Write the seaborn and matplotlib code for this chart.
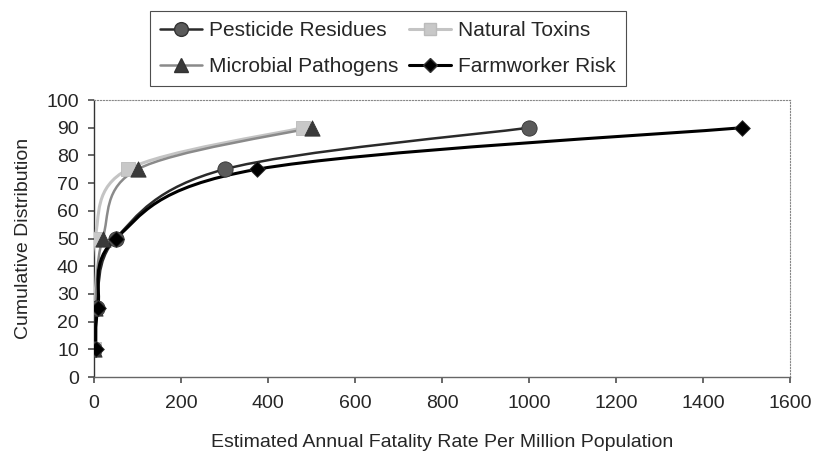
import numpy as np
import pandas as pd
import matplotlib
matplotlib.use('Agg')
import matplotlib.pyplot as plt
import seaborn as sns
from matplotlib.path import Path
from matplotlib.patches import PathPatch
from matplotlib.lines import Line2D

# Percentile points of each distribution
percentiles = [10, 25, 50, 75, 90]
pesticide = [0.5, 6, 50, 300, 1000]
natural = [0.3, 1, 2, 78, 480]
microbial = [0.5, 3, 20, 100, 500]
farmworker = [4, 9, 50, 375, 1490]

x_ticks = list(range(0, 1601, 200))
y_ticks = list(range(0, 101, 10))

sns.set_theme(style='white')
plt.rcParams['font.family'] = ['Liberation Sans', 'DejaVu Sans']

series = [
    # name, xs, line colour, marker, marker face, marker size, line width
    ('Natural Toxins', natural, '#c4c4c4', 's', '#c8c8c8', 10, 2.2),
    ('Microbial Pathogens', microbial, '#8a8a8a', '^', '#3a3a3a', 11, 1.8),
    ('Pesticide Residues', pesticide, '#2a2a2a', 'o', '#5a5a5a', 11, 1.8),
    ('Farmworker Risk', farmworker, '#000000', 'D', '#000000', 8, 2.2),
]


def smooth_path(xs, ys):
    # Excel-style smoothed line: cubic Bezier through the points
    pts = np.column_stack([xs, ys]).astype(float)
    n = len(pts)
    verts = [pts[0]]
    codes = [Path.MOVETO]
    for i in range(n - 1):
        p0 = pts[i - 1] if i > 0 else pts[i]
        p1 = pts[i]
        p2 = pts[i + 1]
        p3 = pts[i + 2] if i + 2 < n else pts[i + 1]
        c1 = p1 + (p2 - p0) / 6.0
        c2 = p2 - (p3 - p1) / 6.0
        verts += [c1, c2, p2]
        codes += [Path.CURVE4] * 3
    return Path(verts, codes)


fig = plt.figure(figsize=(8.27, 4.54), dpi=100)
ax = fig.add_axes([0.1137, 0.1696, 0.8416, 0.6101])

handles = {}
for name, xs, lc, mk, mf, ms, lw in series:
    ax.add_patch(PathPatch(smooth_path(xs, percentiles), facecolor='none',
                           edgecolor=lc, lw=lw, zorder=3))
    df = pd.DataFrame({'x': xs, 'y': percentiles})
    ec = '#bbbbbb' if mk == 's' else '#333333'
    sns.scatterplot(data=df, x='x', y='y', ax=ax, marker=mk, s=ms ** 2,
                    color=mf, edgecolor=ec, linewidth=0.6, zorder=4, legend=False)
    handles[name] = Line2D([], [], color=lc, lw=lw, marker=mk, markersize=ms * 0.9,
                           markerfacecolor=mf, markeredgecolor=ec)

ax.set_xlim(0, 1600)
ax.set_ylim(0, 100)
ax.set_xticks(x_ticks)
ax.set_yticks(y_ticks)
ax.tick_params(axis='both', labelsize=14, length=4, direction='out', color='#555555',
               bottom=True, left=True)
ax.tick_params(axis='x', pad=9)
ax.tick_params(axis='y', pad=7)
ax.set_xlabel('Estimated Annual Fatality Rate Per Million Population', fontsize=14, labelpad=16)
ax.set_ylabel('Cumulative Distribution', fontsize=14, labelpad=10)

for side in ['top', 'right']:
    ax.spines[side].set_linestyle(':')
    ax.spines[side].set_color('#888888')
    ax.spines[side].set_linewidth(0.8)
ax.spines['left'].set_color('#333333')
ax.spines['bottom'].set_color('#666666')
for side in ['left', 'bottom']:
    ax.spines[side].set_linewidth(1.0)

order = ['Pesticide Residues', 'Microbial Pathogens', 'Natural Toxins', 'Farmworker Risk']
leg = fig.legend([handles[k] for k in order], order, ncol=2,
                 loc='upper left', bbox_to_anchor=(0.181, 0.976),
                 fontsize=15, frameon=True, fancybox=False, handlelength=2.0,
                 handletextpad=0.35, columnspacing=0.5, labelspacing=0.8,
                 borderpad=0.5, borderaxespad=0)
leg.get_frame().set_edgecolor('#222222')
leg.get_frame().set_linewidth(0.8)

fig.savefig('out.png', dpi=100)
